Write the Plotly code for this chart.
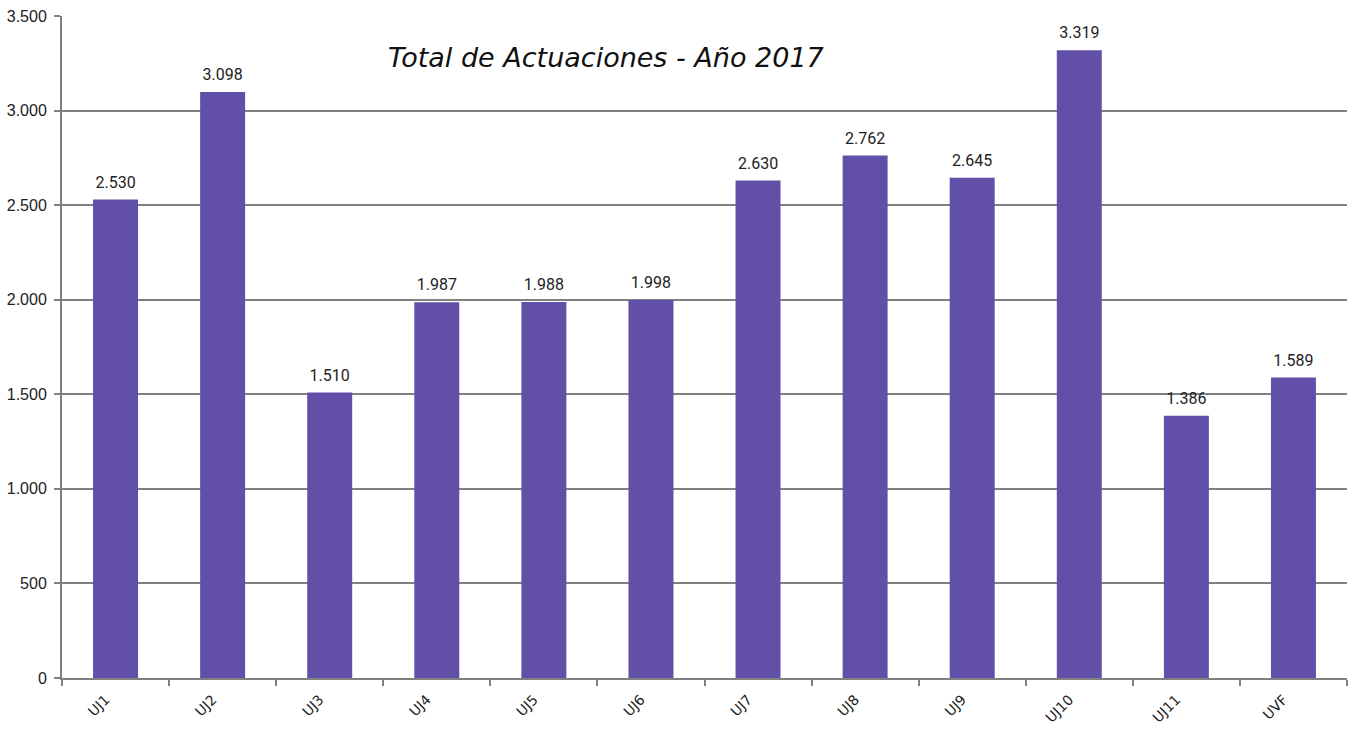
import plotly.graph_objects as go

categories = ["UJ1", "UJ2", "UJ3", "UJ4", "UJ5", "UJ6", "UJ7", "UJ8", "UJ9", "UJ10", "UJ11", "UVF"]
values = [2530, 3098, 1510, 1987, 1988, 1998, 2630, 2762, 2645, 3319, 1386, 1589]
y_ticks = [0, 500, 1000, 1500, 2000, 2500, 3000, 3500]
title_text = "Total de Actuaciones - Año 2017"

fig = go.Figure(go.Bar(
    x=categories, y=values,
    marker=dict(color="#6250A8", line=dict(width=0)),
    text=[f"{v:,}".replace(",", ".") for v in values],
    texttemplate="<span style='font-size:16px'>%{text}</span><br> ",
    textposition="outside",
    textfont=dict(family="Roboto, Arial, sans-serif", size=6, color="#222222"),
    cliponaxis=False,
    hoverinfo="x+y",
))

fig.update_layout(
    width=1355, height=731,
    margin=dict(l=62, r=8, t=16, b=53),
    plot_bgcolor="white", paper_bgcolor="white",
    separators=",.",
    bargap=0.58,
    showlegend=False,
    uniformtext=dict(minsize=0),
    font=dict(family="Arial, Liberation Sans, sans-serif", size=16, color="#222222"),
    xaxis=dict(
        type="category", automargin=False,
        showline=True, linecolor="#808080", linewidth=2,
        ticks="outside", tickson="boundaries", ticklen=6, tickcolor="#808080", tickwidth=2,
        tickangle=-45, tickfont=dict(size=14, family="Verdana, DejaVu Sans, sans-serif"),
        ticklabelstandoff=6, ticklabelshift=-10,
        showgrid=False,
    ),
    yaxis=dict(
        range=[0, 3500], tickvals=y_ticks, tickformat=",d", automargin=False,
        showline=True, linecolor="#808080", linewidth=2,
        ticks="outside", ticklen=6, tickcolor="#808080", tickwidth=2,
        showgrid=True, gridcolor="#808080", gridwidth=1.5,
        zeroline=False,
        ticklabelstandoff=4,
        tickfont=dict(size=16, family="Arial, Liberation Sans, sans-serif"),
    ),
    annotations=[dict(
        text=f"<i>{title_text}</i>", x=0.423, y=0.937, xref="paper", yref="paper",
        xanchor="center", yanchor="middle", showarrow=False,
        font=dict(family="Verdana, DejaVu Sans, sans-serif", size=27, color="#111111"),
    )],
)

fig.write_html("out.html", config={"displayModeBar": False},
               post_script="document.body.style.margin='0';")
